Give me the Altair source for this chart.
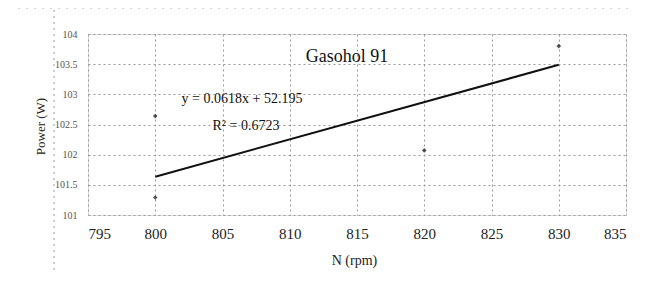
import altair as alt
import pandas as pd

# Measured points (N in rpm, Power in W)
rpm = [800, 800, 820, 830]
power = [102.64, 101.29, 102.07, 103.8]

# Trendline from the printed equation y = 0.0618x + 52.195
slope = 0.0618
intercept = 52.195
trend_x = [800, 830]
trend_y = [slope * v + intercept for v in trend_x]

x_ticks = [795, 800, 805, 810, 815, 820, 825, 830, 835]
y_ticks = [101, 101.5, 102, 102.5, 103, 103.5, 104]

pts = pd.DataFrame({"N": rpm, "P": power})
trend = pd.DataFrame({"N": trend_x, "P": trend_y})

FONT = "Liberation Serif"
W, H = 538, 181

xs = alt.Scale(domain=[795, 835], nice=False, zero=False)
ys = alt.Scale(domain=[101, 104], nice=False, zero=False)

x_axis = alt.Axis(values=x_ticks, title="N (rpm)", grid=True, gridColor="#9a9a9a",
                  gridDash=[2, 3], gridWidth=1, domain=False, ticks=False,
                  labelFont=FONT, labelFontSize=15, labelColor="#222", labelPadding=11,
                  labelOverlap=False,
                  titleFont=FONT, titleFontSize=14, titleFontWeight="normal", titleColor="#222",
                  titleX=266, titleY=45, titleBaseline="middle")
y_axis = alt.Axis(values=y_ticks, title="Power (W)", grid=True, gridColor="#9a9a9a",
                  gridDash=[2, 3], gridWidth=1, domain=False, ticks=False,
                  labelFont=FONT, labelFontSize=10, labelColor="#555", labelPadding=11,
                  labelOverlap=False, labelExpr="datum.value",
                  titleFont=FONT, titleFontSize=13, titleFontWeight="normal", titleColor="#222",
                  titleX=-48, titleY=92, titleBaseline="middle", titleAngle=-90)

base_pts = alt.Chart(pts).mark_point(shape="diamond", filled=True, color="#111", size=22).encode(
    x=alt.X("N:Q", scale=xs, axis=x_axis),
    y=alt.Y("P:Q", scale=ys, axis=y_axis),
)

line = alt.Chart(trend).mark_line(color="#111", strokeWidth=2).encode(
    x=alt.X("N:Q", scale=xs, axis=x_axis),
    y=alt.Y("P:Q", scale=ys, axis=y_axis),
)

def label(text, x, y, size):
    return alt.Chart(pd.DataFrame({"t": [text]})).mark_text(
        font=FONT, fontSize=size, color="#111", align="center", baseline="alphabetic"
    ).encode(text="t:N", x=alt.value(x), y=alt.value(y))

title_txt = label("Gasohol 91", 259, 28, 18)
eq_txt = label("y = 0.0618x + 52.195", 154, 69, 14)
r2_txt = label("R² = 0.6723", 158, 96, 14)

border_left = alt.Chart(pd.DataFrame({"a": [0]})).mark_rule(
    color="#999", strokeDash=[2, 4], strokeWidth=1, clip=False
).encode(x=alt.value(-34), y=alt.value(-30), y2=alt.value(240))
border_top = alt.Chart(pd.DataFrame({"a": [0]})).mark_rule(
    color="#aaa", strokeDash=[2, 6], strokeWidth=1, clip=False
).encode(x=alt.value(-70), x2=alt.value(545), y=alt.value(-26))

chart = alt.layer(base_pts, line, border_left, border_top, title_txt, eq_txt, r2_txt).properties(
    width=W, height=H,
    autosize=alt.AutoSizeParams(type="none"),
    padding={"left": 80, "top": 26, "right": 15, "bottom": 58},
).configure_view(stroke=None).configure(background="white")

chart.save("out.html", embed_options={"renderer": "svg", "actions": False})
